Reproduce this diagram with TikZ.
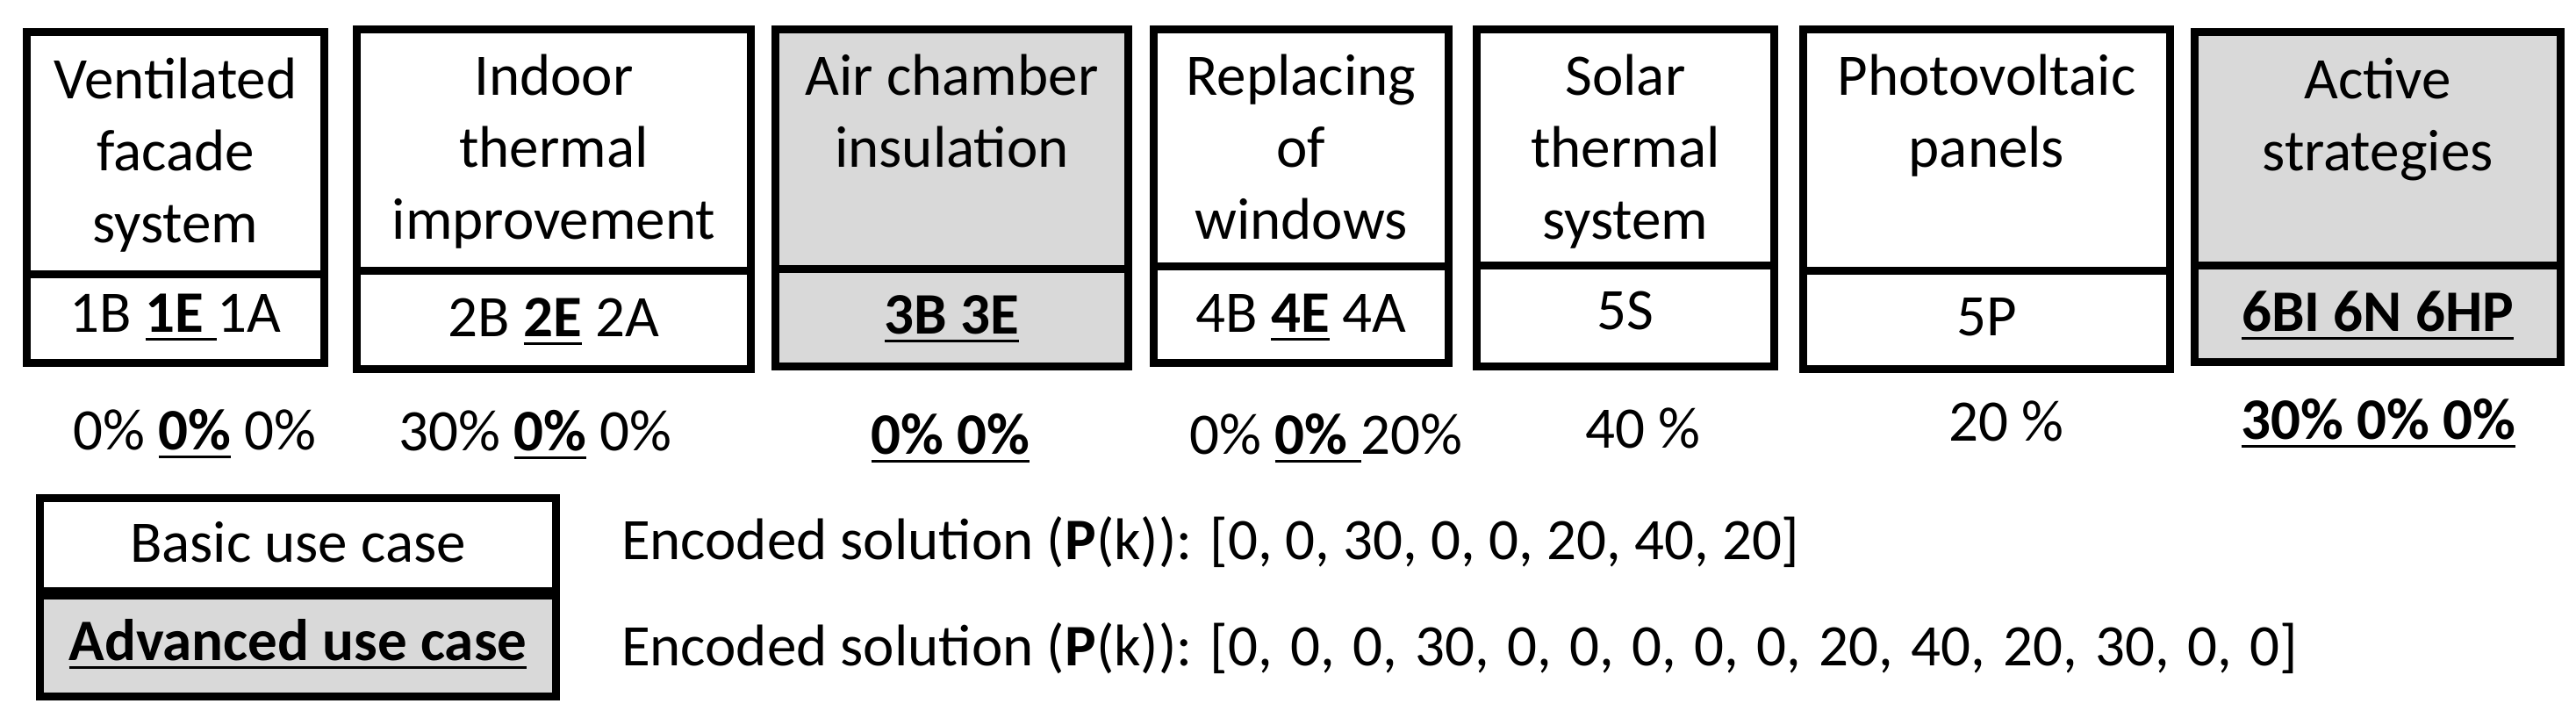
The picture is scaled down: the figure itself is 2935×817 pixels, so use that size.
\documentclass[tikz,border=0pt]{standalone}
\usepackage{fontspec}
\setmainfont{Carlito}
\definecolor{cellgray}{RGB}{217,217,217}
\newsavebox\ulbox
\newcommand\myul[1]{\sbox\ulbox{#1}\rlap{\vrule width\wd\ulbox height -6.5pt depth 9.5pt}\usebox\ulbox}
\tikzset{
  cell/.style={draw=black, line width=9pt, inner sep=0pt, outer sep=0pt},
  wcell/.style={cell, fill=white},
  gcell/.style={cell, fill=cellgray},
  txt/.style={inner sep=0pt, outer sep=0pt, font=\fontsize{67}{82}\selectfont},
  ttl/.style={txt, align=center, anchor=north},
  lbl/.style={txt, anchor=base},
  enc/.style={txt, anchor=base west},
}
\begin{document}
\begin{tikzpicture}[x=1pt,y=-1pt]
\useasboundingbox (0,0) rectangle (2935,817);
\fill[white] (0,0) rectangle (2935,817);
% box 1
\node[wcell, minimum width=339pt, minimum height=275.5pt] (b1t) at (200,174.25) {};
\node[wcell, minimum width=339pt, minimum height=101.5pt] (b1b) at (200,362.75) {};
% box 2
\node[wcell, minimum width=449pt, minimum height=274.5pt] (b2t) at (631,170.75) {};
\node[wcell, minimum width=449pt, minimum height=112.5pt] (b2b) at (631,364.25) {};
% box 3
\node[gcell, minimum width=402pt, minimum height=272.5pt] (b3t) at (1084.5,169.75) {};
\node[gcell, minimum width=402pt, minimum height=111.5pt] (b3b) at (1084.5,361.75) {};
% box 4
\node[wcell, minimum width=336pt, minimum height=269.5pt] (b4t) at (1482.5,168.25) {};
\node[wcell, minimum width=336pt, minimum height=110.5pt] (b4b) at (1482.5,358.25) {};
% box 5
\node[wcell, minimum width=339pt, minimum height=268.5pt] (b5t) at (1852,167.75) {};
\node[wcell, minimum width=339pt, minimum height=115.5pt] (b5b) at (1852,359.75) {};
% box 6
\node[wcell, minimum width=418pt, minimum height=274.5pt] (b6t) at (2263.5,170.75) {};
\node[wcell, minimum width=418pt, minimum height=112.5pt] (b6b) at (2263.5,364.25) {};
% box 7
\node[gcell, minimum width=417pt, minimum height=265.5pt] (b7t) at (2709,169.25) {};
\node[gcell, minimum width=417pt, minimum height=110.5pt] (b7b) at (2709,357.25) {};
% titles
\node[ttl] (t1) at (200,54.6) {\strut Ventilated\\facade\\system};
\node[ttl] (t2) at (631,50.6) {\strut Indoor\\thermal\\improvement};
\node[ttl] (t3) at (1084.5,50.6) {\strut Air chamber\\insulation};
\node[ttl] (t4) at (1482.5,50.6) {\strut Replacing\\of\\windows};
\node[ttl] (t5) at (1852,50.6) {\strut Solar\\thermal\\system};
\node[ttl] (t6) at (2263.5,50.6) {\strut Photovoltaic\\panels};
\node[ttl] (t7) at (2709,54.6) {\strut Active\\strategies};
% codes
\node[lbl] (c1) at (200,378) {1B \myul{\textbf{1E}\ }1A};
\node[lbl] (c2) at (631,383) {2B \myul{\textbf{2E}} 2A};
\node[lbl] (c3) at (1084.5,380) {\myul{\textbf{3B 3E}}};
\node[lbl] (c4) at (1482.5,378) {4B \myul{\textbf{4E}} 4A};
\node[lbl] (c5) at (1852,375) {5S};
\node[lbl] (c6) at (2263.5,382) {5P};
\node[lbl] (c7) at (2709,377) {\myul{\textbf{6BI 6N 6HP}}};
% percentages
\node[lbl] (p1) at (222,512) {0\% \myul{\textbf{0\%}} 0\%};
\node[lbl] (p2) at (610,513) {30\% \myul{\textbf{0\%}} 0\%};
\node[lbl] (p3) at (1083,517) {\myul{\textbf{0\% 0\%}}};
\node[lbl] (p4) at (1511,517) {0\% \myul{\textbf{0\%}\ }20\%};
\node[lbl] (p5) at (1872,510) {40 \%};
\node[lbl] (p6) at (2286,502) {20 \%};
\node[lbl] (p7) at (2710,500) {\myul{\textbf{30\% 0\% 0\%}}};
% legend
\node[wcell, minimum width=588pt, minimum height=106.5pt] (lb) at (339.5,620.25) {};
\node[gcell, minimum width=588pt, minimum height=115.5pt] (la) at (339.5,735.75) {};
\node[lbl] (lbt) at (339.5,640) {Basic use case};
\node[lbl] (lat) at (339.5,752) {\myul{\textbf{Advanced use case}}};
% encoded solutions
\node[enc] (e1) at (708,637) {Encoded solution (\textbf{P}(k)): [0, 0, 30, 0, 0, 20, 40, 20]};
\node[enc] (e2) at (708,758) {Encoded solution (\textbf{P}(k)): {\spaceskip=20.3pt [0, 0, 0, 30, 0, 0, 0, 0, 0, 20, 40, 20, 30, 0, 0]}};
\end{tikzpicture}
\end{document}
